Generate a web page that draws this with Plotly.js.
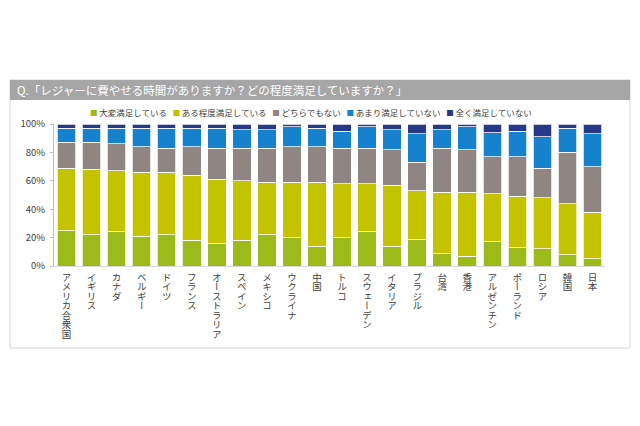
<!DOCTYPE html>
<html>
<head>
<meta charset="utf-8">
<script src="https://cdn.plot.ly/plotly-3.0.1.min.js"></script>
<style>html,body{margin:0;padding:0;background:#fff;}#chart{width:640px;height:426px;}</style>
</head>
<body>
<div id="chart"></div>
<script>
const titleText = "Q.「レジャーに費やせる時間がありますか？どの程度満足していますか？」";
const countries = ["アメリカ合衆国","イギリス","カナダ","ベルギー","ドイツ","フランス","オーストラリア","スペイン","メキシコ","ウクライナ","中国","トルコ","スウェーデン","イタリア","ブラジル","台湾","香港","アルゼンチン","ポーランド","ロシア","韓国","日本"];
const seriesNames = ["大変満足している","ある程度満足している","どちらでもない","あまり満足していない","全く満足していない"];
const seriesColors = ["#9CBA1A","#C4C300","#8F8583","#1682CE","#283889"];
const veryHappy   = [25,22,24,21,22,18,16,18,22,20,14,20,24,14,19, 9, 7,17,13,12, 8, 5];
const fairlyHappy = [44,46,43,45,44,46,45,42,37,39,45,38,34,43,34,43,45,34,36,36,36,33];
const neutral     = [18,19,19,18,17,20,22,23,24,25,25,25,25,25,20,31,30,26,28,21,36,32];
const notVery     = [10,10,11,13,14,13,14,13,13,14,13,12,15,14,20,13,16,17,18,22,17,23];
const notAtAll    = [ 3, 3, 3, 3, 3, 3, 3, 4, 4, 2, 3, 5, 2, 4, 7, 4, 2, 6, 5, 9, 3, 7];
const yTickVals = [0,20,40,60,80,100];
const yTickLabels = ["0%","20%","40%","60%","80%","100%"];

const seriesValues = [veryHappy, fairlyHappy, neutral, notVery, notAtAll];
const FONT = '"Noto Sans CJK JP", "Noto Sans", sans-serif';

const traces = seriesValues.map((vals, i) => ({
  type: 'bar',
  name: seriesNames[i],
  x: countries,
  y: vals,
  marker: {color: seriesColors[i], line: {color: 'rgba(255,255,255,0.75)', width: 1}},
  hoverinfo: 'x+y+name'
}));

// plot area pixel geometry: x 54..605, y 124..266
const L = 54, R = 605, T = 124, B = 266;
const px = v => (v - L) / (R - L);
const py = v => (B - v) / (B - T);

const legendText = seriesNames.map((n, i) =>
  `<span style="color:${seriesColors[i]};font-size:7.5px">■</span>\u2009${n}`).join('\u00a0\u00a0\u00a0');

const layout = {
  width: 640, height: 426,
  margin: {l: L, r: 640 - R, t: T, b: 426 - B, pad: 0},
  paper_bgcolor: '#ffffff', plot_bgcolor: 'rgba(0,0,0,0)',
  barmode: 'stack', bargap: 0.26,
  showlegend: false,
  font: {family: FONT, color: '#404040', size: 9.5},
  title: {text: titleText, xref: 'container', yref: 'container', x: 17/640, xanchor: 'left',
          y: 1 - 90.5/426, yanchor: 'middle', font: {family: FONT, size: 11.5, color: '#ffffff'}},
  xaxis: {type: 'category', showline: true, linecolor: '#D9D9D9', linewidth: 1, ticks: '',
          tickangle: 0, showgrid: false, zeroline: false, fixedrange: true,
          tickfont: {family: FONT, size: 9.5, color: '#404040'}},
  yaxis: {range: [0, 100], tickmode: 'array', tickvals: yTickVals, ticktext: yTickLabels,
          showline: true, linecolor: '#BFBFBF',
          linewidth: 1, ticks: 'outside', ticklen: 3, tickcolor: '#BFBFBF', showgrid: false,
          zeroline: false, fixedrange: true, ticklabelstandoff: 3,
          tickfont: {family: FONT, size: 9.5, color: '#404040'}},
  shapes: [
    {type: 'rect', layer: 'below', xref: 'paper', yref: 'paper', x0: px(10), x1: px(630), y0: py(348), y1: py(80),
     fillcolor: '#ffffff', line: {color: '#D6D6D6', width: 1}},
    {type: 'rect', layer: 'below', xref: 'paper', yref: 'paper', x0: px(10), x1: px(630), y0: py(100), y1: py(80),
     fillcolor: '#A6A6A6', line: {width: 0}}
  ],
  annotations: [
    {text: legendText, xref: 'paper', yref: 'paper', x: px(88), xanchor: 'left', y: py(112), yanchor: 'middle',
     showarrow: false, font: {family: FONT, size: 8.5, color: '#404040'}}
  ]
};

Plotly.newPlot('chart', traces, layout, {displayModeBar: false, staticPlot: true}).then(gd => {
  // render category labels in vertical Japanese writing
  gd.querySelectorAll('.xtick text').forEach(t => {
    t.style.writingMode = 'vertical-rl';
    t.setAttribute('writing-mode', 'vertical-rl');
    t.setAttribute('text-anchor', 'start');
    t.setAttribute('dy', '0');
    const y = parseFloat(t.getAttribute('y') || '0');
    t.setAttribute('y', String(y - 6));
  });
});
</script>
</body>
</html>
